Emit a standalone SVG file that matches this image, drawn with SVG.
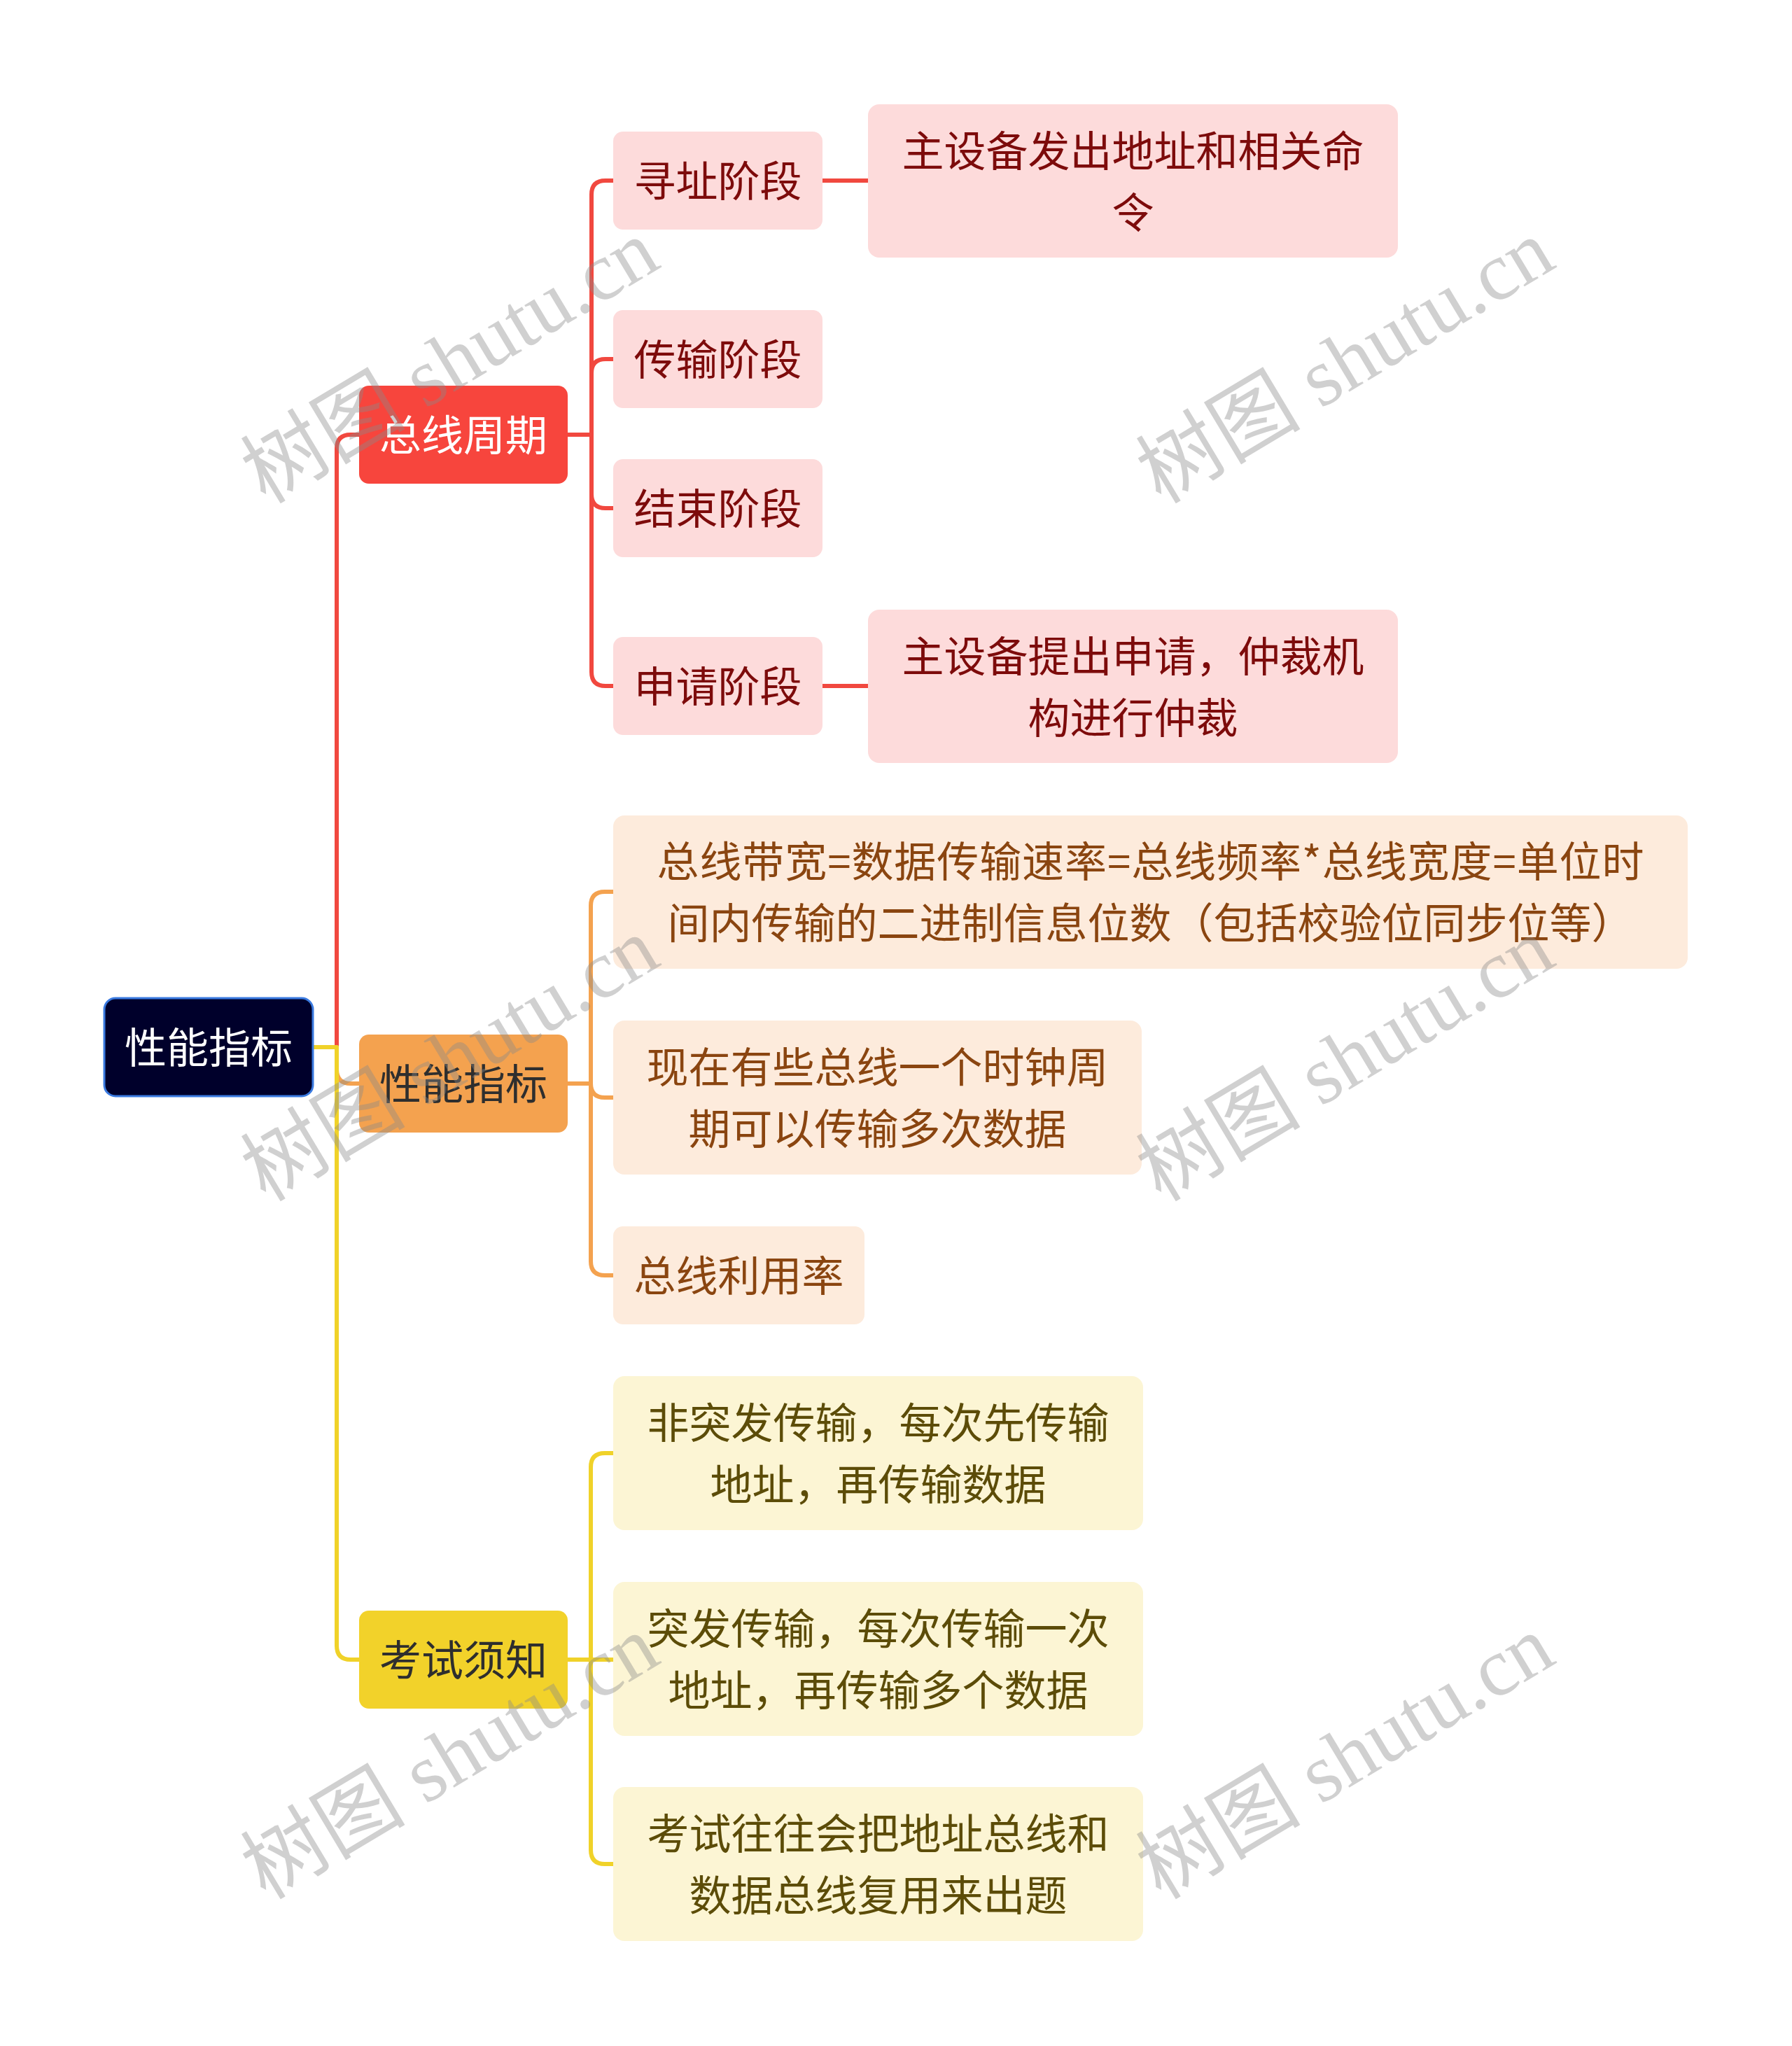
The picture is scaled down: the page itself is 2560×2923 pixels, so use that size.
<svg xmlns="http://www.w3.org/2000/svg" width="2560" height="2923" viewBox="0 0 2560 2923">
<style>
text{font-family:"Noto Sans CJK SC","Noto Sans",sans-serif;font-size:60px;text-anchor:middle;dominant-baseline:central}
.c{fill:none;stroke-width:6;stroke-linecap:butt;stroke-linejoin:round}
.cr{stroke:#f1483f}.co{stroke:#f4a24f}.cy{stroke:#f0d229}
.root rect{fill:#00002b;stroke:#3a7ae0;stroke-width:3}
.root text{fill:#ffffff}
.l1r rect{fill:#f7453d}.l1r text{fill:#ffffff}
.l1o rect{fill:#f4a24f}.l1o text{fill:#2e2e2e}
.l1y rect{fill:#f2d22a}.l1y text{fill:#2e2e2e}
.l2r rect{fill:#fddbdb}.l2r text{fill:#7d0b0b}
.l2o rect{fill:#fdebdc}.l2o text{fill:#8a4510}
.l2y rect{fill:#fcf5d4}.l2y text{fill:#5c4c08}
.wm{font-family:"Liberation Serif","Noto Sans CJK SC",serif;font-size:118px;fill:#8a8a8a;fill-opacity:0.4;text-anchor:middle;dominant-baseline:central}
</style>
<rect width="2560" height="2923" fill="#ffffff"/>
<g id="connectors">
<path class="c cr" d="M447 1496 H481 V641 Q481 621 501 621 H513"/>
<path class="c co" d="M447 1496 H481 V1528 Q481 1548 501 1548 H513"/>
<path class="c cy" d="M447 1496 H481 V2351 Q481 2371 501 2371 H513"/>
<path class="c cr" d="M811 621 H845 V278 Q845 258 865 258 H876"/>
<path class="c cr" d="M811 621 H845 V533 Q845 513 865 513 H876"/>
<path class="c cr" d="M811 621 H845 V706 Q845 726 865 726 H876"/>
<path class="c cr" d="M811 621 H845 V960 Q845 980 865 980 H876"/>
<path class="c cr" d="M1175 258 H1240"/>
<path class="c cr" d="M1175 980 H1240"/>
<path class="c co" d="M811 1548 H844 V1294 Q844 1274 864 1274 H876"/>
<path class="c co" d="M811 1548 H844 Q844 1568 864 1568 H876"/>
<path class="c co" d="M811 1548 H844 V1802 Q844 1822 864 1822 H876"/>
<path class="c cy" d="M811 2371 H844 V2096 Q844 2076 864 2076 H876"/>
<path class="c cy" d="M811 2371 H876"/>
<path class="c cy" d="M811 2371 H844 V2643 Q844 2663 864 2663 H876"/>
</g>
<g id="root" class="root"><rect x="149" y="1426" width="298" height="140" rx="16"/><text x="298" y="1492">性能指标</text></g>
<g id="n-bus-cycle" class="l1r"><rect x="513" y="551" width="298" height="140" rx="14"/><text x="662" y="617">总线周期</text></g>
<g id="n-perf" class="l1o"><rect x="513" y="1478" width="298" height="140" rx="14"/><text x="662" y="1544">性能指标</text></g>
<g id="n-exam" class="l1y"><rect x="513" y="2301" width="298" height="140" rx="14"/><text x="662" y="2367">考试须知</text></g>
<g id="n-addr" class="l2r"><rect x="876" y="188" width="299" height="140" rx="14"/><text x="1025.5" y="254">寻址阶段</text></g>
<g id="n-trans" class="l2r"><rect x="876" y="443" width="299" height="140" rx="14"/><text x="1025.5" y="509">传输阶段</text></g>
<g id="n-end" class="l2r"><rect x="876" y="656" width="299" height="140" rx="14"/><text x="1025.5" y="722">结束阶段</text></g>
<g id="n-req" class="l2r"><rect x="876" y="910" width="299" height="140" rx="14"/><text x="1025.5" y="976">申请阶段</text></g>
<g id="n-addr-d" class="l2r"><rect x="1240" y="149" width="757" height="219" rx="16"/><text><tspan x="1618.5" y="210.5">主设备发出地址和相关命</tspan><tspan x="1618.5" y="298.5">令</tspan></text></g>
<g id="n-req-d" class="l2r"><rect x="1240" y="871" width="757" height="219" rx="16"/><text><tspan x="1618.5" y="932.5">主设备提出申请，仲裁机</tspan><tspan x="1618.5" y="1020.5">构进行仲裁</tspan></text></g>
<g id="n-bw" class="l2o"><rect x="876" y="1165" width="1535" height="219" rx="16"/><text x="1643.5" y="1226.5" textLength="1410" lengthAdjust="spacing">总线带宽=数据传输速率=总线频率*总线宽度=单位时</text><text x="1643.5" y="1314.5">间内传输的二进制信息位数（包括校验位同步位等）</text></g>
<g id="n-multi" class="l2o"><rect x="876" y="1458" width="755" height="220" rx="16"/><text><tspan x="1253.5" y="1520">现在有些总线一个时钟周</tspan><tspan x="1253.5" y="1608">期可以传输多次数据</tspan></text></g>
<g id="n-util" class="l2o"><rect x="876" y="1752" width="359" height="140" rx="14"/><text x="1055.5" y="1818">总线利用率</text></g>
<g id="n-nonburst" class="l2y"><rect x="876" y="1966" width="757" height="220" rx="16"/><text><tspan x="1254.5" y="2028">非突发传输，每次先传输</tspan><tspan x="1254.5" y="2116">地址，再传输数据</tspan></text></g>
<g id="n-burst" class="l2y"><rect x="876" y="2260" width="757" height="220" rx="16"/><text><tspan x="1254.5" y="2322">突发传输，每次传输一次</tspan><tspan x="1254.5" y="2410">地址，再传输多个数据</tspan></text></g>
<g id="n-mux" class="l2y"><rect x="876" y="2553" width="757" height="220" rx="16"/><text><tspan x="1254.5" y="2615">考试往往会把地址总线和</tspan><tspan x="1254.5" y="2703">数据总线复用来出题</tspan></text></g>
<g id="watermarks">
<text class="wm" transform="translate(643 517) rotate(-31)">树图 shutu.cn</text>
<text class="wm" transform="translate(1922 517) rotate(-31)">树图 shutu.cn</text>
<text class="wm" transform="translate(643 1514) rotate(-31)">树图 shutu.cn</text>
<text class="wm" transform="translate(1922 1514) rotate(-31)">树图 shutu.cn</text>
<text class="wm" transform="translate(643 2511) rotate(-31)">树图 shutu.cn</text>
<text class="wm" transform="translate(1922 2511) rotate(-31)">树图 shutu.cn</text>
</g>
</svg>
